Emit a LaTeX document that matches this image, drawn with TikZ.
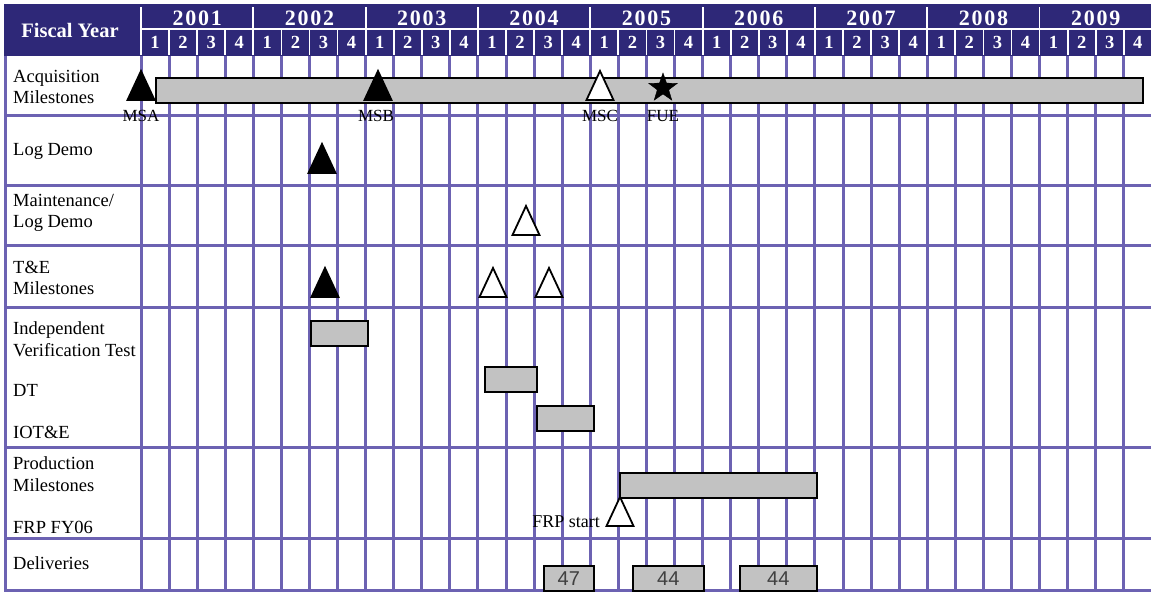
\documentclass[tikz,border=0pt]{standalone}
\usepackage{fontspec}
\setmainfont{Liberation Serif}
\newfontfamily\delivfont{Liberation Sans}
\newfontfamily\yearfont[LetterSpace=8]{Liberation Serif}
\usetikzlibrary{shapes.geometric}
\definecolor{hdrblue}{RGB}{46,40,120}
\definecolor{gridblue}{RGB}{108,98,178}
\definecolor{bargray}{RGB}{194,194,194}
\tikzset{
  gridline/.style = {draw=gridblue, line width=3pt},
  hdrline/.style  = {draw=white, line width=1.8pt},
  hdrtext/.style  = {text=white, inner sep=0pt, font=\bfseries\fontsize{20.5}{22}\selectfont},
  yeartext/.style = {text=white, inner sep=0pt, font=\yearfont\bfseries\fontsize{22}{24}\selectfont},
  qtext/.style    = {text=white, inner sep=0pt, font=\bfseries\fontsize{18.5}{19}\selectfont},
  rowlabel/.style = {anchor=west, align=left, inner sep=0pt,
                     font=\fontsize{18.5}{21.5}\selectfont},
  msname/.style   = {inner sep=0pt, font=\fontsize{17}{18}\selectfont},
  bar/.style      = {rectangle, draw=black, fill=bargray, line width=1.5pt,
                     inner sep=0pt, anchor=north west},
  delivbox/.style = {bar, minimum height=25, text=black!75,
                     font=\delivfont\fontsize{20}{20}\selectfont},
  mstone/.pic     = {\path[draw=black, line width=1.8pt, pic actions]
                     (-13.5,0) -- (0,-29) -- (13.5,0) -- cycle;},
}

\begin{document}
\begin{tikzpicture}[x=1pt, y=-1pt]
  \useasboundingbox (0,0) rectangle (1151,592);

  % header band
  \fill[hdrblue] (4,4) rectangle (1151,56);
  \draw[hdrline] (141,7) -- (141,55);
  \draw[hdrline] (141,29) -- (1151,29);
  \foreach \k in {1,...,8}
    \draw[hdrline] ({141+4*\k*28.08},7) -- ({141+4*\k*28.08},29);
  \foreach \k in {1,...,35}
    \draw[hdrline] ({141+\k*28.08},29) -- ({141+\k*28.08},55);
  \node[hdrtext] (fiscal) at (70,30) {Fiscal Year};
  \foreach \yr [count=\i from 0] in {2001,...,2009}
    \node[yeartext] (yr\yr) at ({141+(4*\i+2)*28.08},18) {\yr};
  \foreach \i in {0,...,35} {
    \pgfmathtruncatemacro\qq{mod(\i,4)+1}
    \node[qtext] (q\i) at ({141+(\i+0.5)*28.08},42) {\qq};
  }

  % grid
  \foreach \k in {0,...,35}
    \draw[gridline] ({141+\k*28.08},56) -- ({141+\k*28.08},590);
  \draw[gridline] (5,56) -- (5,590);
  \foreach \yy in {115,185,245,307,447,538,590}
    \draw[gridline] (4,\yy) -- (1151,\yy);

  % row labels
  \node[rowlabel] (acq)   at (13,87)  {Acquisition\\Milestones};
  \node[rowlabel] (log)   at (13,151) {Log Demo};
  \node[rowlabel] (maint) at (13,213) {Maintenance/\\Log Demo};
  \node[rowlabel] (te)    at (13,278) {T\&E\\Milestones};
  \node[rowlabel] (ivt)   at (13,339) {Independent\\Verification Test};
  \node[rowlabel] (dt)    at (13,390) {DT};
  \node[rowlabel] (iote)  at (13,432) {IOT\&E};
  \node[rowlabel] (prod)  at (13,474) {Production\\Milestones};
  \node[rowlabel] (frp)   at (13,527) {FRP FY06};
  \node[rowlabel] (deliv) at (13,563) {Deliveries};

  % bars
  \node[bar, minimum width=987, minimum height=25] (acqbar)  at (155,77)  {};
  \node[bar, minimum width=57,  minimum height=25] (ivtbar)  at (310,320) {};
  \node[bar, minimum width=52,  minimum height=25] (dtbar)   at (484,366) {};
  \node[bar, minimum width=57,  minimum height=25] (iotebar) at (536,405) {};
  \node[bar, minimum width=197, minimum height=25] (prodbar) at (619,472) {};
  \node[delivbox, minimum width=50]  (del47)  at (543,565) {47};
  \node[delivbox, minimum width=71]  (del44a) at (632,565) {44};
  \node[delivbox, minimum width=77]  (del44b) at (739,565) {44};

  % milestones
  \pic[fill=black] (msa)   at (141,100) {mstone};
  \pic[fill=black] (msb)   at (378,100) {mstone};
  \pic[fill=white] (msc)   at (600,100) {mstone};
  \node[star, star points=5, star point ratio=2.5, fill=black, draw=black,
        minimum size=30, inner sep=0pt] (fue) at (663,88) {};
  \pic[fill=black] (logms) at (322,173) {mstone};
  \pic[fill=white] (mtms)  at (526,235) {mstone};
  \pic[fill=black] (tea)   at (325,297) {mstone};
  \pic[fill=white] (teb)   at (493,297) {mstone};
  \pic[fill=white] (tec)   at (549,297) {mstone};
  \pic[fill=white] (frpms) at (620,526) {mstone};

  \node[msname] (msalbl) at (141,116) {MSA};
  \node[msname] (msblbl) at (376,116) {MSB};
  \node[msname] (msclbl) at (600,116) {MSC};
  \node[msname] (fuelbl) at (663,116) {FUE};
  \node[rowlabel, anchor=east, font=\fontsize{18}{20}\selectfont]
        (frplbl) at (600,522) {FRP start};
\end{tikzpicture}
\end{document}
